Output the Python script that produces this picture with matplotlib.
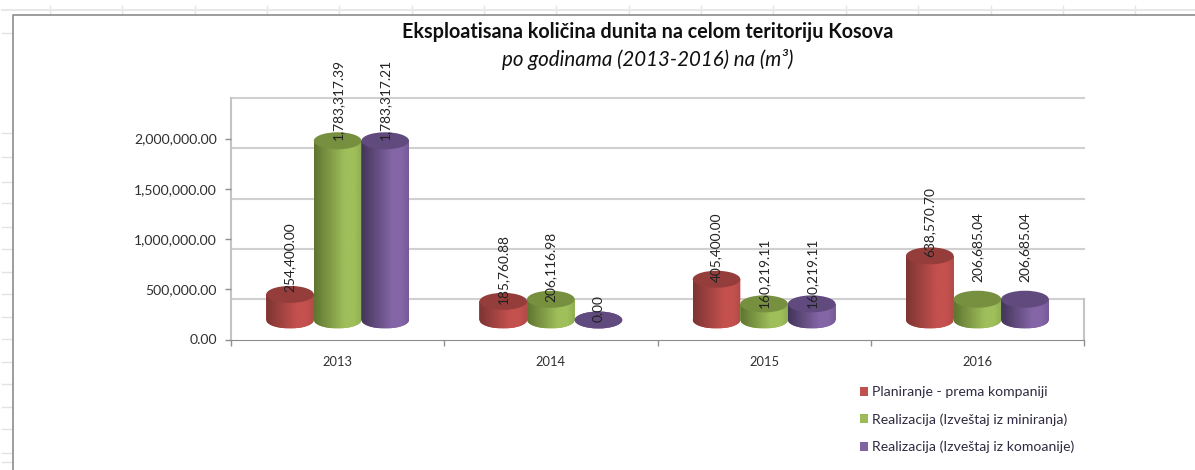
import numpy as np
import matplotlib
matplotlib.use("Agg")
import matplotlib.pyplot as plt
from matplotlib.patches import Ellipse, Patch
from matplotlib.lines import Line2D
from matplotlib.colors import LinearSegmentedColormap
from matplotlib.transforms import Affine2D

plt.rcParams['font.family'] = ['Lato', 'DejaVu Sans']

years = ['2013', '2014', '2015', '2016']
series_names = ['Planiranje - prema kompaniji',
                'Realizacija (Izveštaj iz miniranja)',
                'Realizacija (Izveštaj iz komoanije)']
planiranje = [254400.00, 185760.88, 405400.00, 638570.70]
miniranje = [1783317.39, 206116.98, 160219.11, 206685.04]
komoanije = [1783317.21, 0.00, 160219.11, 206685.04]
series_values = [planiranje, miniranje, komoanije]
y_ticks = [0, 500000, 1000000, 1500000, 2000000]

# styles
W, H = 1195, 470
body_dark = ['#7d3533', '#5f7530', '#43355a']
body_main = ['#c4514e', '#9fbf5b', '#8465a6']
body_end = ['#b04a47', '#8fad52', '#755b97']
top_col = ['#943d3b', '#77903f', '#614b7e']
legend_col = ['#c0504d', '#9bbb59', '#8064a2']
label_nudge_px = [[2, 1, 1], [-3, -3, -2], [-3, -4, -4], [-1, 17, 17]]

fig = plt.figure(figsize=(W / 100, H / 100), dpi=100, facecolor='white')
X0, X1, Y0, Y1 = 231, 1084, 339.5, 138.5
ax = fig.add_axes([X0 / W, 1 - Y0 / H, (X1 - X0) / W, (Y0 - Y1) / H])
ax.set_xlim(-0.5, 3.5)
ax.set_ylim(0, 2000000)
ax.patch.set_alpha(0)
px_val = 2000000 / (Y0 - Y1)
base = 19.5 * px_val
wall = 40.5 * px_val
bw = 47.6 / ((X1 - X0) / 4)
semi = 8.5 * px_val

# spreadsheet background
pix = Affine2D().scale(1 / W, -1 / H).translate(0, 1) + fig.transFigure
def fl(xs, ys, c='#e3e3e3', lw=1.0, z=0):
    fig.add_artist(Line2D(xs, ys, color=c, lw=lw, transform=pix, zorder=z))
for y in [33, 133, 157, 182, 203, 227, 249, 272, 294, 317, 339, 362, 384, 407, 429, 453, 462]:
    fl([2, 12], [y, y])
for x in np.arange(50, 1195, 72.35):
    fl([x, x], [6, 14])
fl([2, 1195], [10, 10], '#e8e8e8', 1.5)
fl([12.7, 12.7, 1195], [470, 14.5, 14.5], '#8c8c8c', 1.2)

# walls
for v in y_ticks:
    ax.plot([-0.5, 3.5], [v + wall] * 2, color='#d0d0d0', lw=1.5, clip_on=False, zorder=1)
ax.plot([-0.5, -0.5], [0, 2000000 + wall], color='#c4c4c4', lw=1.5, clip_on=False, zorder=1)
ax.plot([3.5, 3.5], [0, wall], color='#c4c4c4', lw=1.5, clip_on=False, zorder=1)

# cylinders
grad_x = np.linspace(0, 1, 100)
for s, vals in enumerate(series_values):
    cmap = LinearSegmentedColormap.from_list('c', [(0, body_dark[s]), (0.65, body_main[s]), (0.85, body_main[s]), (1, body_end[s])])
    for i, v in enumerate(vals):
        cx = i + (s - 1) * bw
        bars = ax.bar(cx, v, bw, bottom=base, color=body_main[s], lw=0, zorder=3 + s * 0.1, clip_on=False)
        ax.add_patch(Ellipse((cx, base), bw, 2 * semi, color=body_main[s], lw=0, zorder=3 + s * 0.1))
        if v > 0:
            img = ax.imshow(grad_x[None, :], extent=[cx - bw / 2, cx + bw / 2, base - semi, base + v],
                            aspect='auto', cmap=cmap, zorder=3.01 + s * 0.1, origin='lower')
            verts_x = np.linspace(cx - bw / 2, cx + bw / 2, 60)
            low = base - semi * np.sqrt(np.clip(1 - ((verts_x - cx) / (bw / 2)) ** 2, 0, 1))
            poly = np.r_[np.c_[verts_x, low], [[cx + bw / 2, base + v], [cx - bw / 2, base + v]]]
            clip = plt.Polygon(poly, transform=ax.transData, fill=False, lw=0)
            ax.add_patch(clip)
            img.set_clip_path(clip)
            ax.add_patch(Ellipse((cx, base + v), bw, 2 * semi, color=top_col[s], lw=0,
                                 zorder=3.05 + s * 0.1, clip_on=False))
        else:
            ax.add_patch(Ellipse((cx, base), bw, 2 * semi, color=top_col[s], lw=0, zorder=3.05 + s * 0.1))
        ax.annotate(f'{v:,.2f}', (cx, base + v), xytext=(0, label_nudge_px[i][s] * 0.72),
                    textcoords='offset points', rotation=90, ha='center', va='bottom',
                    fontsize=9.9, color='#222222', zorder=6, annotation_clip=False)
ax.set_xlim(-0.5, 3.5)
ax.set_ylim(0, 2000000)

# axes
ax.set_yticks(y_ticks, [f'{v:,.2f}' for v in y_ticks])
ax.set_xticks([-0.5, 0.5, 1.5, 2.5, 3.5], [''] * 5)
ax.set_xticks([0, 1, 2, 3], years, minor=True)
ax.tick_params(axis='x', which='minor', length=0, pad=12, labelsize=9.3, labelcolor='#303030')
ax.tick_params(axis='x', which='major', length=4, color='#909090', width=1)
ax.tick_params(axis='y', length=4, color='#909090', width=1, pad=6, labelsize=10.1, labelcolor='#303030')
for k in ['top', 'right', 'left']:
    ax.spines[k].set_visible(False)
ax.spines['bottom'].set_color('#8c8c8c')

# legend
handles = [Patch(facecolor=c, label=n) for c, n in zip(legend_col, series_names)]
leg = fig.legend(handles=handles, loc='upper left', bbox_to_anchor=(855.5 / W, 1 - 382 / H), frameon=False,
                 fontsize=10.1, labelcolor='#302a40', handlelength=0.58, handleheight=0.58, handletextpad=0.3,
                 labelspacing=1.07, borderpad=0.3, borderaxespad=0)

# titles
fig.text(648 / W, 1 - 32 / H, 'Eksploatisana količina dunita na celom teritoriju Kosova',
         ha='center', va='center', fontsize=14.2, fontweight='bold', color='#101010')
fig.text(648 / W, 1 - 60 / H, 'po godinama (2013-2016) na (m³)', ha='center', va='center',
         fontsize=14.8, style='italic', color='#101010')

fig.savefig('out.png', dpi=100, facecolor='white')
